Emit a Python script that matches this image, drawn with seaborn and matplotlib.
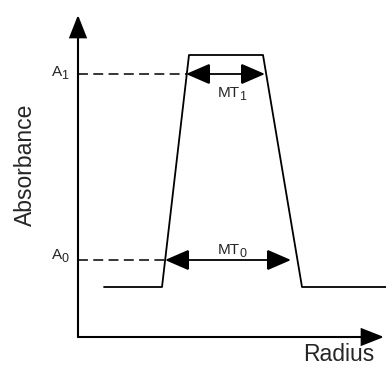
import numpy as np
import pandas as pd
import matplotlib
matplotlib.use("Agg")
import matplotlib.pyplot as plt
import seaborn as sns
from matplotlib.patches import FancyArrowPatch

# Absorbance profile across the sample (arbitrary units)
radius = [26, 84, 111, 185, 224, 308]
absorbance = [50, 50, 282, 282, 50, 50]

# Reference absorbance levels and the widths measured at them
level_names = ["A", "A"]
level_subs = ["0", "1"]
level_values = [77, 263]
width_names = ["MT", "MT"]
width_subs = ["0", "1"]
width_spans = [(87, 213), (108, 187)]

axis_x_end = 308
axis_y_end = 337

sns.set_style("white")
plt.rcParams["font.family"] = ["Liberation Sans", "DejaVu Sans"]

fig = plt.figure(figsize=(3.86, 3.65), dpi=100)
ax = fig.add_axes([0, 0, 1, 1])
ax.set_xlim(-78, 308)
ax.set_ylim(-28, 337)
ax.axis("off")

df = pd.DataFrame({"Radius": radius, "Absorbance": absorbance})
sns.lineplot(data=df, x="Radius", y="Absorbance", sort=False, color="black",
             linewidth=1.3, ax=ax, legend=False)


def arrow(p0, p1, style, lw):
    ax.add_patch(FancyArrowPatch(p0, p1, arrowstyle=style, mutation_scale=1,
                                 color="black", linewidth=lw,
                                 shrinkA=0, shrinkB=0, joinstyle="miter"))


def subscripted(x, y, main, sub, size=11, sub_size=9):
    """Draw `main` with a lowered subscript right after it."""
    t = ax.text(x, y, main, ha="left", va="baseline", fontsize=size)
    ax.annotate(sub, xy=(1, 0), xycoords=t, xytext=(-0.6, -0.3),
                textcoords="offset points", ha="left", va="baseline",
                fontsize=sub_size)


# Coordinate axes with arrowheads
axis_style = "-|>,head_length=14,head_width=5.5"
arrow((0, 0), (0, axis_y_end - 15), axis_style, 1.5)
arrow((0, 0), (axis_x_end - 2, 0), axis_style, 1.5)

# Dashed guides from the vertical axis to the rising flank
for (x0, x1), ya in zip(width_spans, level_values):
    ax.plot([0, x0], [ya, ya], color="black", linewidth=1.1,
            linestyle=(0, (6.5, 3.5)))

# Width arrows between the two flanks
width_style = "<|-|>,head_length=15,head_width=6.5"
for (x0, x1), ya in zip(width_spans, level_values):
    arrow((x0, ya), (x1, ya), width_style, 1.3)

# Labels
subscripted(-26, level_values[0] + 1, level_names[0], level_subs[0])
subscripted(-26, level_values[1] - 2, level_names[1], level_subs[1])
subscripted(140, 83, width_names[0], width_subs[0])
subscripted(140, 240, width_names[1], width_subs[1])

ax.text(-53, 172, "Absorbance", rotation=90, ha="center", va="center",
        fontsize=16.5)
ax.text(225, -24, "Radius", ha="left", va="baseline", fontsize=16.5)

fig.savefig("out.png", dpi=100)
